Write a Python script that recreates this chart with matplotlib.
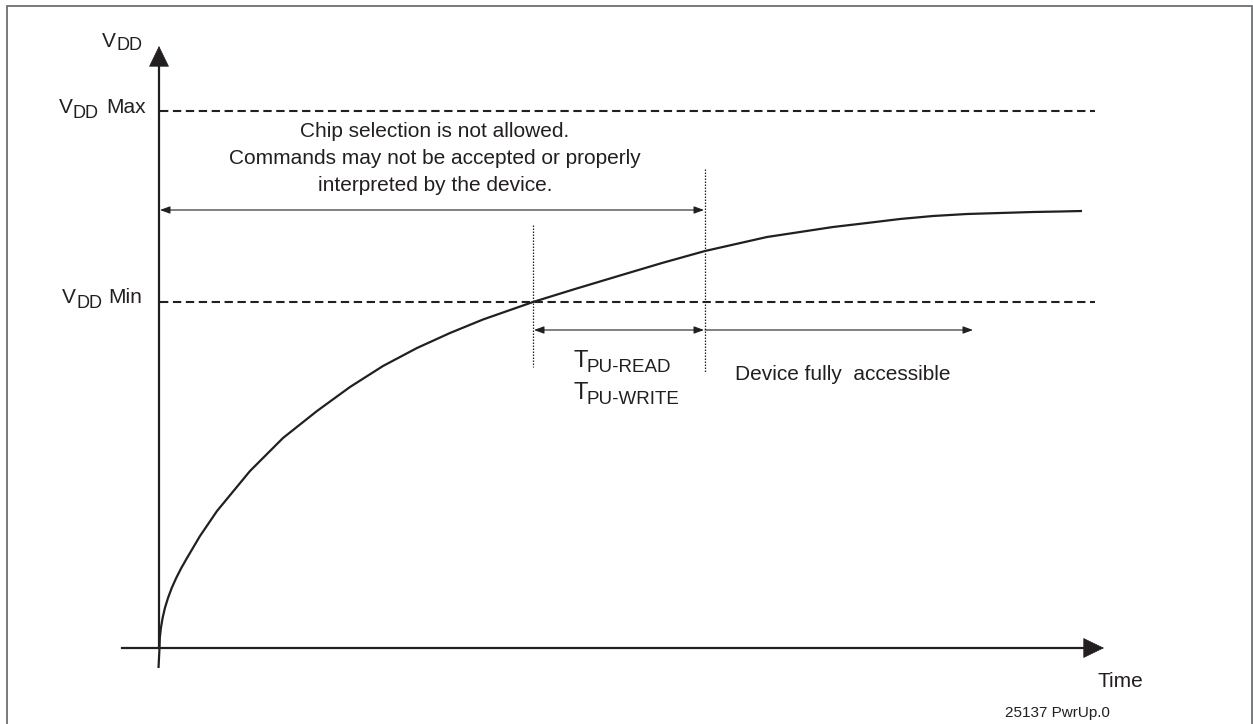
import matplotlib
matplotlib.use("Agg")
import matplotlib.pyplot as plt

plt.rcParams["font.family"] = ["Liberation Sans", "DejaVu Sans"]

INK = "#231f20"
FRAME = "#6d6e71"

# diagram coordinates (pixel-like units, y grows downwards)
ORIGIN = (159, 648)
X_AXIS_END = 1104
X_AXIS_START = 122
Y_AXIS_TOP = 46

VDD_MAX_Y = 111
VDD_MIN_Y = 302
LEVEL_X = (160, 1095)

# V_DD ramp
ramp_t = [158.5, 159, 159.5, 159.8, 160.9, 162.6, 164.9, 168, 171.7, 176.2,
          181.3, 187, 200, 217, 250, 283, 317, 350, 383, 417, 450, 483, 533,
          575, 620, 662, 705, 736, 767, 800, 833, 867, 900, 933, 967, 1000,
          1033, 1060, 1082]
ramp_v = [668, 658, 648, 638, 628, 618, 608, 598, 588, 578,
          568, 558, 536, 511, 471, 438, 411, 387, 366, 348, 333, 319.5, 302,
          289, 275.5, 263, 251, 244, 237, 232, 227, 223, 219, 216, 214, 213,
          212, 211.5, 211]

T_VDDMIN = 533      # ramp crosses V_DD min
T_ACCESS = 705      # end of t_PU
T_FULL_END = 973
DIM_Y_TOP = 210
DIM_Y_LOW = 330
DOT1_Y = (225, 367)
DOT2_Y = (169, 372)


def arrow(ax, x0, y0, x1, y1, lw, hl, hw, both=False):
    style = "<|-|>" if both else "-|>"
    ax.annotate("", xy=(x1, y1), xytext=(x0, y0),
                arrowprops=dict(arrowstyle=f"{style},head_length={hl},head_width={hw}",
                                lw=lw, color=INK, shrinkA=0, shrinkB=0,
                                mutation_scale=1))


def sub_label(ax, x, y, main, sub, extra="", size=15, sub_size=13, drop=5,
              sub_dx=14, extra_dx=None):
    ax.text(x, y, main, fontsize=size, color=INK, va="baseline", ha="left")
    ax.text(x + sub_dx, y + drop, sub, fontsize=sub_size, color=INK,
            va="baseline", ha="left")
    if extra:
        ax.text(x + extra_dx, y, extra, fontsize=size, color=INK,
                va="baseline", ha="left")


fig = plt.figure(figsize=(12.53, 7.24), dpi=100)
ax = fig.add_axes([0, 0, 1, 1])
ax.set_xlim(0, 1253)
ax.set_ylim(724, 0)
ax.axis("off")

# outer frame
ax.plot([7, 7, 1251.5, 1251.5], [730, 6, 6, 730], color=FRAME, lw=1.3,
        solid_joinstyle="miter")

# V_DD limits
dash = (0, (4.0, 2.2))
ax.plot(LEVEL_X, [VDD_MAX_Y] * 2, color=INK, lw=1.5, linestyle=dash)
ax.plot(LEVEL_X, [VDD_MIN_Y] * 2, color=INK, lw=1.5, linestyle=dash)

# axes with big arrow heads
ax.plot([X_AXIS_START, X_AXIS_END - 15], [ORIGIN[1]] * 2, color=INK, lw=1.6)
arrow(ax, X_AXIS_END - 25, ORIGIN[1], X_AXIS_END, ORIGIN[1], 0.5, 14.0, 6.8)
ax.plot([ORIGIN[0]] * 2, [ORIGIN[1], Y_AXIS_TOP + 15], color=INK, lw=1.6)
arrow(ax, ORIGIN[0], Y_AXIS_TOP + 25, ORIGIN[0], Y_AXIS_TOP, 0.5, 14.0, 6.8)

# ramp
ax.plot(ramp_t, ramp_v, color=INK, lw=1.6, solid_capstyle="butt",
        solid_joinstyle="round")

# dotted markers
ax.plot([T_VDDMIN] * 2, DOT1_Y, color=INK, lw=0.9, linestyle=(0, (1.2, 1.2)))
ax.plot([T_ACCESS] * 2, DOT2_Y, color=INK, lw=0.9, linestyle=(0, (1.2, 1.2)))

# dimension arrows
arrow(ax, ORIGIN[0] + 1, DIM_Y_TOP, T_ACCESS - 1, DIM_Y_TOP, 0.8, 6.0, 2.2, both=True)
arrow(ax, T_VDDMIN + 1, DIM_Y_LOW, T_ACCESS - 1, DIM_Y_LOW, 0.8, 6.0, 2.2, both=True)
arrow(ax, T_ACCESS, DIM_Y_LOW, T_FULL_END, DIM_Y_LOW, 0.8, 6.0, 2.2)

# labels
sub_label(ax, 102, 47, "V", "DD", drop=3)
sub_label(ax, 59, 113, "V", "DD", "Max", extra_dx=47)
sub_label(ax, 62, 303, "V", "DD", "Min", extra_dx=46)

for txt, yb in [("Chip selection is not allowed.", 137),
                ("Commands may not be accepted or properly", 164),
                ("interpreted by the device.", 191)]:
    ax.text(435, yb, txt, fontsize=15, color=INK, ha="center", va="baseline")

sub_label(ax, 573, 367, "T", "PU-READ", size=17, sub_size=13.5, sub_dx=14)
sub_label(ax, 573, 399, "T", "PU-WRITE", size=17, sub_size=13.5, sub_dx=14)

ax.text(735, 380, "Device fully  accessible", fontsize=15, color=INK,
        ha="left", va="baseline")
ax.text(1120, 687, "Time", fontsize=15, color=INK, ha="center", va="baseline")
ax.text(1005, 717, "25137 PwrUp.0", fontsize=11, color=INK, ha="left",
        va="baseline")

fig.savefig("out.png", dpi=100)
